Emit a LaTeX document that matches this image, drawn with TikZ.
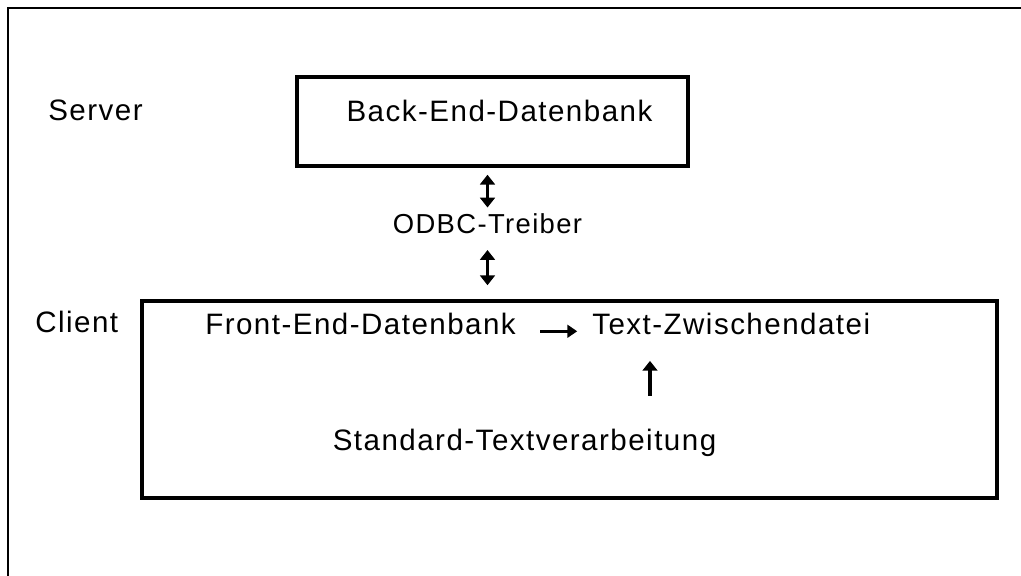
\documentclass[tikz,border=0pt]{standalone}
\usepackage{fontspec}
\setmainfont{Liberation Sans}[LetterSpace=5]
\usepackage{tikz}
\usetikzlibrary{calc,arrows.meta}

\tikzset{
	box/.style={draw,line width=2.4pt,inner sep=0pt},
	lbl/.style={inner sep=0pt,anchor=base,font=\fontsize{21}{24}\selectfont},
	dblarr/.style={line width=2.8pt,{Triangle[width=10.5pt,length=7pt]}-{Triangle[width=10.5pt,length=7pt]}},
	uparr/.style={line width=2.8pt,-{Triangle[width=10.5pt,length=7pt]}},
	rarr/.style={line width=2pt,-{Triangle[width=9pt,length=7pt]}}
}

\begin{document}
\begin{tikzpicture}[x=0.025cm,y=-0.025cm]
				\useasboundingbox (0,0) rectangle (1021,576);
				\draw[line width=0.9pt] (1021,8)--(8,8)--(8,576);
				\node[box,minimum width=9.775cm,minimum height=2.225cm] (serverbox) at (492.5,121.5){};
				\node[box,minimum width=21.375cm,minimum height=4.925cm] (clientbox) at (569.5,399.5){};
				\node[lbl,anchor=base west] (server) at (48,121){Server};
				\node[lbl] (backend) at (499.5,122){Back-End-Datenbank};
				\node[lbl,font=\fontsize{19.5}{22}\selectfont] (odbc) at (487.5,234){ODBC-Treiber};
				\node[lbl,anchor=base west] (client) at (35,333){Client};
				\node[lbl,anchor=base west] (frontend) at (205,335){Front-End-Datenbank};
				\node[lbl,anchor=base west] (zwischen) at (592,335){Text-Zwischendatei};
				\node[lbl] (standard) at (524.5,451){Standard-Textverarbeitung};
				\coordinate (upx) at ($(zwischen.south west)+(58,0)$);
				\begin{scope}
				\draw[dblarr,shorten <=5pt,shorten >=4.5pt] (odbc.north |- serverbox.south)--(odbc.north);
				\draw[dblarr,shorten <=11pt,shorten >=10pt] (odbc.south)--(odbc.south |- clientbox.north);
				\draw[rarr,shorten <=17pt,shorten >=10.5pt] (frontend.mid east)--(zwischen.mid west);
				\draw[uparr,shorten <=24pt,shorten >=18pt] (upx |- standard.north)--(upx);
				\end{scope}
			\end{tikzpicture}
\end{document}
